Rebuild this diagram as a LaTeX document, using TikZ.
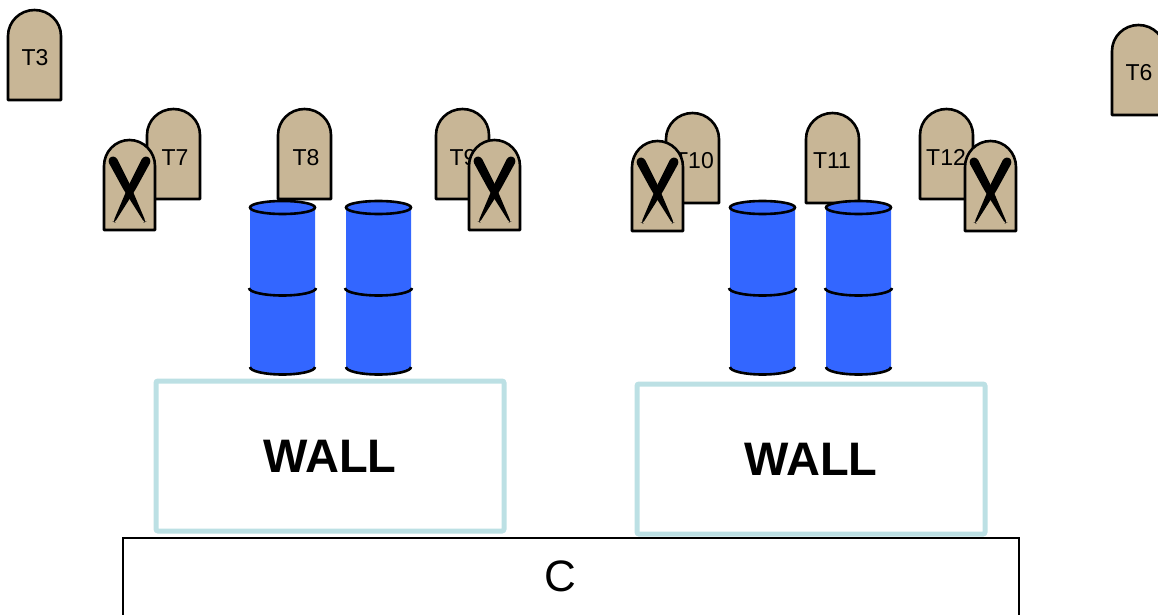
\documentclass[tikz,border=0pt]{standalone}
\usepackage{fontspec}
\setmainfont{Liberation Sans}
\usetikzlibrary{calc}

\definecolor{stonetan}{RGB}{200,182,150}
\definecolor{barrelblue}{RGB}{51,102,255}
\definecolor{wallcyan}{RGB}{188,224,228}

\tikzset{
  stoneline/.style={draw=black, line width=2.6pt, fill=stonetan, line join=round},
  stonelabel/.style={font=\fontsize{23}{23}\selectfont, inner sep=0pt},
  blade/.style={fill=black, rounded corners=2.5pt},
  barrelbody/.style={fill=barrelblue},
  barrelrim/.style={draw=black, line width=2.6pt},
  wallbox/.style={draw=wallcyan, line width=5pt, rounded corners=2pt,
    minimum width=348pt, minimum height=150pt, inner sep=0pt,
    font=\fontsize{47}{47}\selectfont\bfseries},
  floorlabel/.style={font=\fontsize{44}{44}\selectfont, inner sep=0pt},
}

% headstone with arched top: #1 left x, #2 top y, #3 width
\newcommand\gravestone[3]{%
  \path[stoneline] (#1,#2+90) -- (#1,#2+26)
    arc[start angle=180, end angle=360, x radius=#3/2, y radius=26]
    -- (#1+#3,#2+90) -- cycle;}

% tapered oar-like stroke from #1 (broad end) to #2 (thin end)
\newcommand\oar[2]{%
  \fill[blade] ($(#1)!4.6pt!90:(#2)$)
    -- ($(#1)!0.45!(#2)!4pt!90:(#2)$)
    -- ($(#2)!0.8pt!-90:(#1)$)
    -- ($(#2)!0.8pt!90:(#1)$)
    -- ($(#1)!0.45!(#2)!4pt!-90:(#2)$)
    -- ($(#1)!4.6pt!-90:(#2)$)
    -- ($(#1)!-3pt!(#2)$) -- cycle;}

% headstone crossed out: #1 name prefix, #2 left x, #3 top y
\newcommand\crossedstone[3]{%
  \gravestone{#2}{#3}{51}
  \coordinate (#1a) at (#2+8,#3+19);
  \coordinate (#1b) at (#2+41,#3+82);
  \coordinate (#1c) at (#2+43,#3+19);
  \coordinate (#1d) at (#2+10,#3+82);
  \oar{#1a}{#1b}
  \oar{#1c}{#1d}}

% two stacked drums: #1 centre x
\newcommand\barrel[1]{%
  \fill[barrelbody] (#1-32.5,207) -- (#1-32.5,367)
    arc[start angle=180, end angle=0, x radius=32.5, y radius=7.5]
    -- (#1+32.5,207) -- cycle;
  \draw[barrelrim] (#1-33.5,288)
    arc[start angle=180, end angle=0, x radius=33.5, y radius=7.5];
  \draw[barrelrim] (#1-32.5,367)
    arc[start angle=180, end angle=0, x radius=32.5, y radius=7.5];
  \filldraw[barrelrim, fill=barrelblue] (#1,207.5) ellipse[x radius=32.5, y radius=6.5];}

\begin{document}
\begin{tikzpicture}[x=1pt, y=-1pt]
\useasboundingbox (0,0) rectangle (1158,615);

% standing headstones
\gravestone{8}{10}{53}      \node[stonelabel] (t3)  at (35,57.5)   {T3};
\gravestone{1112}{25}{53}   \node[stonelabel] (t6)  at (1139,72.5) {T6};
\gravestone{147}{109}{53}   \node[stonelabel] (t7)  at (175,157.5) {T7};
\gravestone{278}{109}{53}   \node[stonelabel] (t8)  at (306,157.5) {T8};
\gravestone{436}{109}{53}   \node[stonelabel] (t9)  at (463,157.5) {T9};
\gravestone{666}{113}{53}   \node[stonelabel] (t10) at (694,161)   {T10};
\gravestone{806}{113}{53}   \node[stonelabel] (t11) at (832,161)   {T11};
\gravestone{920}{109}{53}   \node[stonelabel] (t12) at (946,157.5) {T12};

% crossed-out headstones in front
\crossedstone{xa}{104}{140}
\crossedstone{xb}{469}{140}
\crossedstone{xc}{632}{141}
\crossedstone{xd}{965}{141}

% drums
\barrel{282.5}
\barrel{378.5}
\barrel{762.5}
\barrel{858.5}

% walls
\node[wallbox] (wallL) at (330,456) {WALL};
\node[wallbox] (wallR) at (811,459) {WALL};

% floor block
\draw[line width=2pt] (123,616) -- (123,538) -- (1019,538) -- (1019,616);
\node[floorlabel] (floor) at (560,576) {C};
\end{tikzpicture}
\end{document}
